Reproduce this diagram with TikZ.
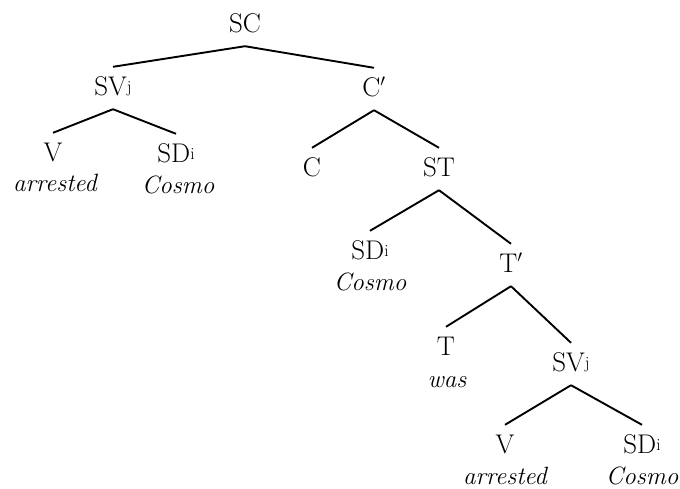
\documentclass[tikz,border=0pt]{standalone}
\usepackage{fontspec}
\newcommand\supx[1]{\raisebox{3pt}{\fontsize{17}{17}\selectfont #1}}
\tikzset{
  cat/.style={font=\fontsize{27}{30}\selectfont, inner sep=0pt, text height=28pt, text depth=14pt, anchor=base},
  word/.style={font=\itshape\fontsize{25}{30}\selectfont, inner sep=0pt, anchor=base},
  branch/.style={line width=1.9pt}
}
\begin{document}
\begin{tikzpicture}[x=1pt,y=-1pt]
\useasboundingbox (0,0) rectangle (680,488);
\node[cat] (SC) at (245,32) {SC};
\node[cat] (SV1) at (113,95) {SV\supx{j}};
\node[cat] (Cp) at (374,96) {C$'$};
\node[cat] (V1) at (53,161) {V};
\node[word] (w1) at (55,191) {arrested};
\node[cat] (SD1) at (176,162) {SD\supx{i}};
\node[word] (w2) at (178,193) {Cosmo};
\node[cat] (C) at (312,176) {C};
\node[cat] (ST) at (439,176) {ST};
\node[cat] (SD2) at (370,259) {SD\supx{i}};
\node[word] (w3) at (370,290) {Cosmo};
\node[cat] (Tp) at (511,272) {T$'$};
\node[cat] (T) at (446,355) {T};
\node[word] (w4) at (447,387) {was};
\node[cat] (SV2) at (571,371) {SV\supx{j}};
\node[cat] (V2) at (505,453) {V};
\node[word] (w5) at (505,484) {arrested};
\node[cat] (SD3) at (642,453) {SD\supx{i}};
\node[word] (w6) at (642,484) {Cosmo};
\draw[branch] (SC.south) -- (SV1.north);
\draw[branch] (SC.south) -- (Cp.north);
\draw[branch] (SV1.south) -- (V1.north);
\draw[branch] (SV1.south) -- (SD1.north);
\draw[branch] (Cp.south) -- (C.north);
\draw[branch] (Cp.south) -- (ST.north);
\draw[branch] (ST.south) -- (SD2.north);
\draw[branch] (ST.south) -- (Tp.north);
\draw[branch] (Tp.south) -- (T.north);
\draw[branch] (Tp.south) -- (SV2.north);
\draw[branch] (SV2.south) -- (V2.north);
\draw[branch] (SV2.south) -- (SD3.north);
\end{tikzpicture}
\end{document}
